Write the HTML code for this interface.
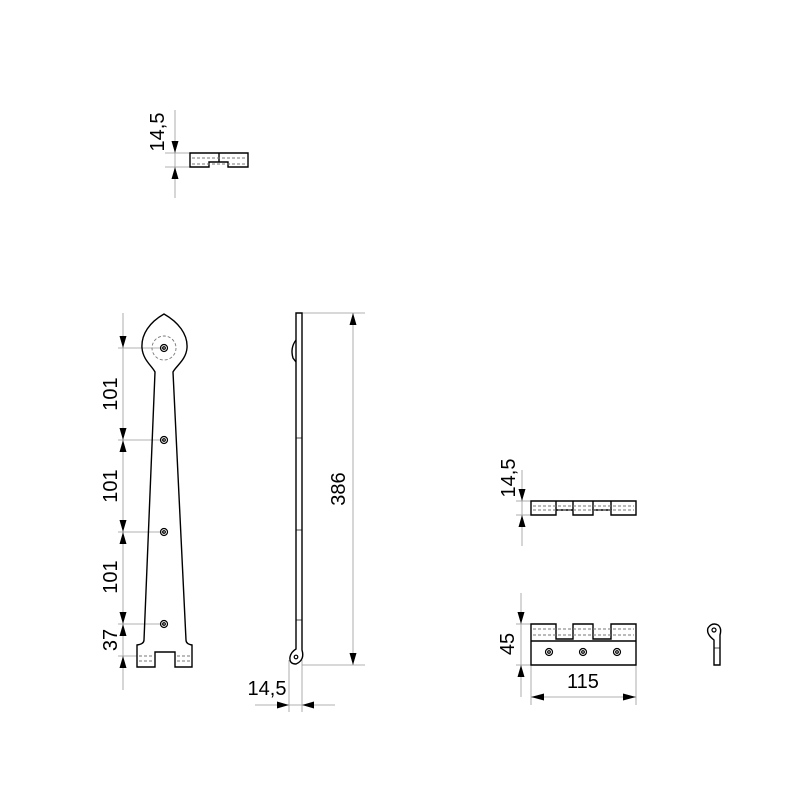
<!DOCTYPE html>
<html><head><meta charset="utf-8"><style>html,body{margin:0;padding:0;background:#fff}svg{display:block}</style></head>
<body>
<svg width="800" height="800" viewBox="0 0 800 800" xmlns="http://www.w3.org/2000/svg" font-family="Liberation Sans, sans-serif">
<g stroke="#999" stroke-width="0.8" fill="none">
<line x1="175" y1="110" x2="175" y2="198"/><line x1="165" y1="153" x2="190" y2="153"/><line x1="165" y1="167" x2="190" y2="167"/>
<line x1="123" y1="313" x2="123" y2="690"/>
<line x1="118" y1="348" x2="164" y2="348"/><line x1="118" y1="440" x2="164" y2="440"/><line x1="118" y1="532" x2="164" y2="532"/><line x1="118" y1="624" x2="164" y2="624"/><line x1="118" y1="656" x2="137" y2="656"/>
<line x1="302" y1="313" x2="365" y2="313"/><line x1="302" y1="665" x2="365" y2="665"/><line x1="353" y1="313" x2="353" y2="665"/>
<line x1="289" y1="660" x2="289" y2="712"/><line x1="302" y1="660" x2="302" y2="712"/><line x1="255" y1="705" x2="335" y2="705"/>
<line x1="522" y1="470" x2="522" y2="546"/><line x1="516" y1="501" x2="531" y2="501"/><line x1="516" y1="515" x2="531" y2="515"/>
<line x1="521" y1="593" x2="521" y2="697"/><line x1="516" y1="624" x2="531" y2="624"/><line x1="516" y1="665" x2="531" y2="665"/>
<line x1="531" y1="665" x2="531" y2="705"/><line x1="636" y1="665" x2="636" y2="705"/><line x1="531" y1="697" x2="636" y2="697"/>
</g>
<g fill="#000">
<path d="M175,153 l-3.5,-12 h7z M175,167 l-3.5,12 h7z"/>
<path d="M123,348 l-3.5,-12 h7z M123,440 l-3.5,-12 h7z M123,440 l-3.5,12 h7z M123,532 l-3.5,-12 h7z M123,532 l-3.5,12 h7z M123,624 l-3.5,-12 h7z M123,624 l-3.5,12 h7z M123,656 l-3.5,12 h7z"/>
<path d="M353,313 l-3.5,12 h7z M353,665 l-3.5,-12 h7z"/>
<path d="M289,705 l-12,-3.5 v7z M302,705 l12,-3.5 v7z"/>
<path d="M522,501 l-3.5,-12 h7z M522,515 l-3.5,12 h7z"/>
<path d="M521,624 l-3.5,-12 h7z M521,665 l-3.5,12 h7z"/>
<path d="M531,697 l13,-3.5 v7z M636,697 l-13,-3.5 v7z"/>
</g>
<g font-size="20" fill="#000">
<text transform="translate(164,132) rotate(-90)" text-anchor="middle">14,5</text>
<text transform="translate(124,394) rotate(-90)" text-anchor="middle" dy="-7">101</text>
<text transform="translate(124,486) rotate(-90)" text-anchor="middle" dy="-7">101</text>
<text transform="translate(124,577) rotate(-90)" text-anchor="middle" dy="-7">101</text>
<text transform="translate(124,640) rotate(-90)" text-anchor="middle" dy="-7">37</text>
<text transform="translate(345,489) rotate(-90)" text-anchor="middle">386</text>
<text x="267" y="695" text-anchor="middle">14,5</text>
<text transform="translate(515,478) rotate(-90)" text-anchor="middle">14,5</text>
<text transform="translate(514,644) rotate(-90)" text-anchor="middle">45</text>
<text x="583" y="688" text-anchor="middle">115</text>
</g>
<g stroke="#000" stroke-width="1.4" fill="none">
<path d="M190,153 H248 V167 H228 V162 H209 V167 H190 Z"/>
<line x1="219" y1="153" x2="219" y2="162"/>
<path d="M164,314 C150,322 141,334 142,348 C143,360 152,366 155,372 L144,640 Q144,644 137,645 V667 H155 V652 H175 V667 H192 V645 Q186,644 186,640 L173,372 C176,366 186,360 187,348 C188,334 178,322 164,314 Z"/>
<path d="M296,313 H302 V650 Q305,660 296,664 Q289,664 290,657 Q291,652 296,649 Z"/>
<path d="M296,340 Q290,348 293,358 L296,362"/>
<path d="M531,501 H636 V515 H611 V510 H593 V515 H573 V510 H556 V515 H531 Z"/>
<line x1="556" y1="501" x2="556" y2="510"/><line x1="573" y1="501" x2="573" y2="510"/><line x1="593" y1="501" x2="593" y2="510"/><line x1="611" y1="501" x2="611" y2="510"/>
<path d="M531,624 H556 V639 H573 V624 H593 V639 H611 V624 H636 V665 H531 Z"/>
<line x1="531" y1="641" x2="636" y2="641"/>
<path d="M714,665 V640 Q706,634 708,628 Q712,622 718,625 Q722,628 720,635 V665 Z"/>
</g>
<g stroke="#000" stroke-width="1.2" fill="none">
<circle cx="164" cy="348" r="3.5"/><circle cx="164" cy="440" r="3.5"/><circle cx="164" cy="532" r="3.5"/><circle cx="164" cy="624" r="3.5"/>
<circle cx="549" cy="652" r="3.5"/><circle cx="583" cy="652" r="3.5"/><circle cx="617" cy="652" r="3.5"/>
<circle cx="164" cy="348" r="1.3"/><circle cx="164" cy="440" r="1.3"/><circle cx="164" cy="532" r="1.3"/><circle cx="164" cy="624" r="1.3"/>
<circle cx="549" cy="652" r="1.3"/><circle cx="583" cy="652" r="1.3"/><circle cx="617" cy="652" r="1.3"/>
<circle cx="296" cy="657" r="1.8"/><circle cx="714" cy="630" r="2"/>
</g>
<g stroke="#777" stroke-width="0.9" fill="none" stroke-dasharray="3,2">
<circle cx="164" cy="348" r="12"/>
<line x1="192" y1="158" x2="246" y2="158"/><line x1="192" y1="164" x2="246" y2="164"/>
<line x1="533" y1="506" x2="634" y2="506"/><line x1="533" y1="510" x2="634" y2="510"/>
<line x1="533" y1="629" x2="634" y2="629"/><line x1="533" y1="635" x2="634" y2="635"/>
<line x1="139" y1="656" x2="153" y2="656"/><line x1="139" y1="661" x2="153" y2="661"/><line x1="177" y1="656" x2="190" y2="656"/><line x1="177" y1="661" x2="190" y2="661"/>
</g>
<g stroke="#000" stroke-width="0.7">
<line x1="296" y1="438" x2="302" y2="438"/><line x1="296" y1="530" x2="302" y2="530"/><line x1="296" y1="620" x2="302" y2="620"/>
<line x1="714" y1="648" x2="720" y2="648"/>
</g>
</svg>
</body></html>
